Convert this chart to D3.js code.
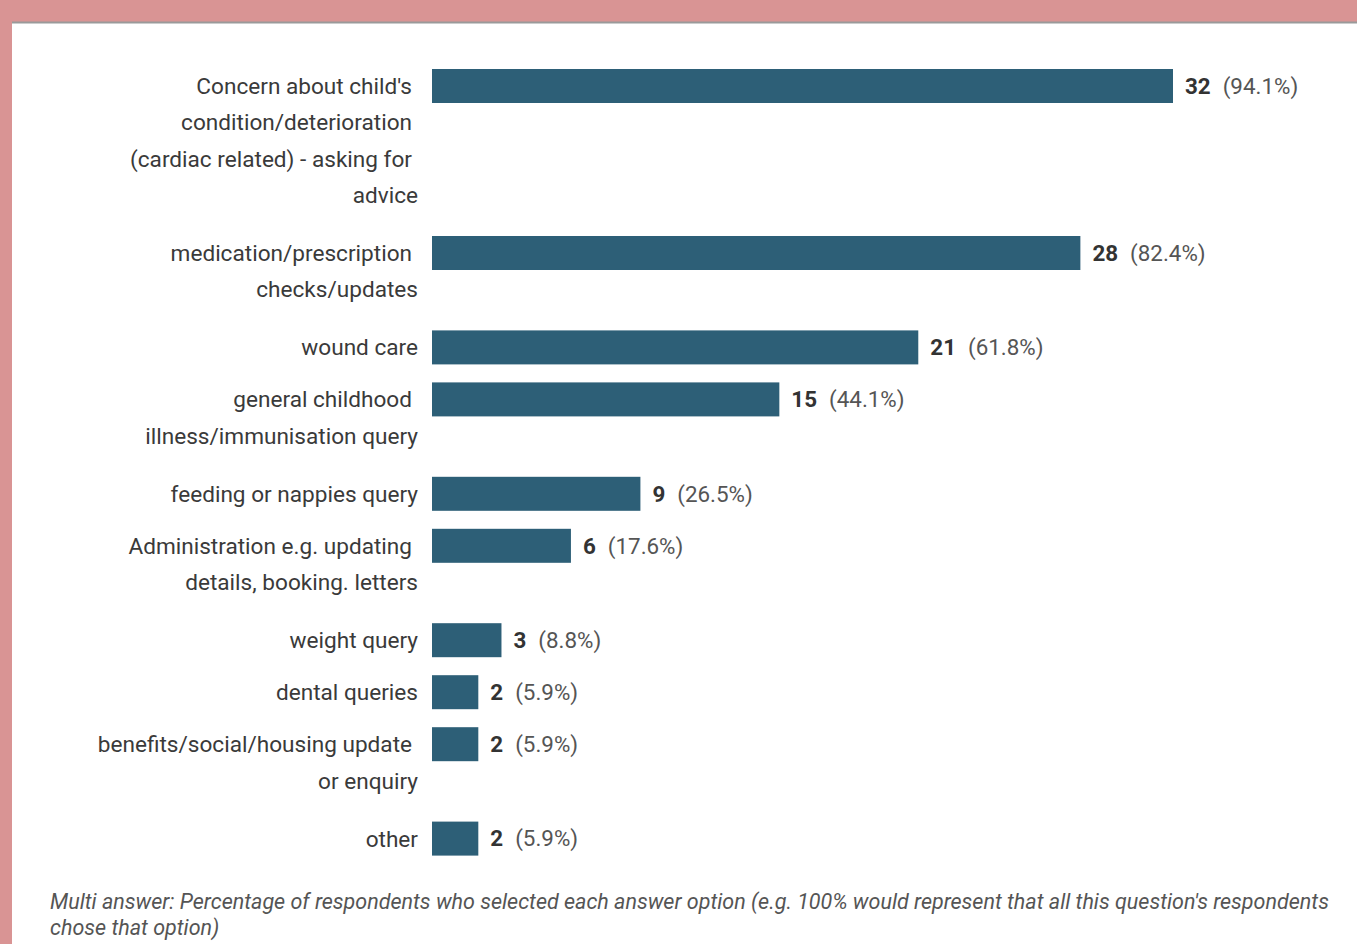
<!DOCTYPE html>
<html>
<head>
<meta charset="utf-8">
<script src="https://cdn.jsdelivr.net/npm/d3@7"></script>
<style>
  html, body { margin: 0; padding: 0; background: #d99494; }
  svg { display: block; font-family: Roboto, "Noto Sans", sans-serif; }
</style>
</head>
<body>
<div id="chart"></div>
<script>
// answer options, each split into the lines shown on the left
var categories = [
  ["Concern about child's", "condition/deterioration", "(cardiac related) - asking for", "advice"],
  ["medication/prescription", "checks/updates"],
  ["wound care"],
  ["general childhood", "illness/immunisation query"],
  ["feeding or nappies query"],
  ["Administration e.g. updating", "details, booking. letters"],
  ["weight query"],
  ["dental queries"],
  ["benefits/social/housing update", "or enquiry"],
  ["other"]
];
var counts  = [32, 28, 21, 15, 9, 6, 3, 2, 2, 2];
var percents = ["94.1%", "82.4%", "61.8%", "44.1%", "26.5%", "17.6%", "8.8%", "5.9%", "5.9%", "5.9%"];
var footnote = [
  "Multi answer: Percentage of respondents who selected each answer option (e.g. 100% would represent that all this question's respondents",
  "chose that option)"
];

var svgWidth = 1357, svgHeight = 944;
var svg = d3.select("#chart").append("svg").attr("width", svgWidth).attr("height", svgHeight);

// frame: pink border top/left, grey rule, white panel
svg.append("rect").attr("x", 0).attr("y", 0).attr("width", svgWidth).attr("height", svgHeight).attr("fill", "#d99494");
svg.append("rect").attr("x", 12).attr("y", 22).attr("width", svgWidth - 12).attr("height", svgHeight - 22).attr("fill", "#fff");
svg.append("rect").attr("x", 12).attr("y", 21.5).attr("width", svgWidth - 12).attr("height", 2).attr("fill", "#9a9a9a");

var barX = 432, barH = 34, labelRight = 418, lineH = 36.4;

// row tops from the number of label lines
var rows = [];
var top0 = 69;
categories.forEach(function(lines, i) {
  rows.push({ lines: lines, count: counts[i], pct: percents[i], top: top0, key: i });
  top0 += lines.length === 1 ? 52 : 21.8 + lines.length * 36.3;
});

var x = d3.scaleLinear().domain([0, d3.max(counts)]).range([barX, 1173]);
var y = d3.scaleOrdinal().domain(rows.map(d => d.key)).range(rows.map(d => d.top));

var g = svg.selectAll(".row").data(rows).enter().append("g").attr("class", "row");

g.append("rect")
  .attr("x", x(0))
  .attr("y", d => y(d.key))
  .attr("width", d => x(d.count) - x(0))
  .attr("height", barH)
  .attr("fill", "#2d5f77");

g.each(function(d) {
  var grp = d3.select(this);
  d.lines.forEach(function(line, j) {
    var last = j === d.lines.length - 1;
    grp.append("text")
      .attr("x", labelRight - (last ? 0 : 6))
      .attr("y", y(d.key) + barH / 2 + j * lineH)
      .attr("dy", "0.35em")
      .attr("text-anchor", "end")
      .attr("font-size", 22.6)
      .attr("fill", "#3a3a3a")
      .text(line);
  });
});

var val = g.append("text")
  .attr("x", d => x(d.count) + 12)
  .attr("y", d => y(d.key) + barH / 2)
  .attr("dy", "0.35em")
  .attr("font-size", 22.4);
val.append("tspan").attr("font-weight", "bold").attr("fill", "#333").text(d => d.count);
val.append("tspan").attr("dx", 12).attr("fill", "#555").text(d => "(" + d.pct + ")");

svg.selectAll(".foot").data(footnote).enter().append("text")
  .attr("class", "foot")
  .attr("x", 50)
  .attr("y", (d, i) => 909 + i * 26)
  .attr("font-size", 21.5)
  .attr("font-style", "italic")
  .attr("fill", "#555")
  .text(d => d);
</script>
</body>
</html>
